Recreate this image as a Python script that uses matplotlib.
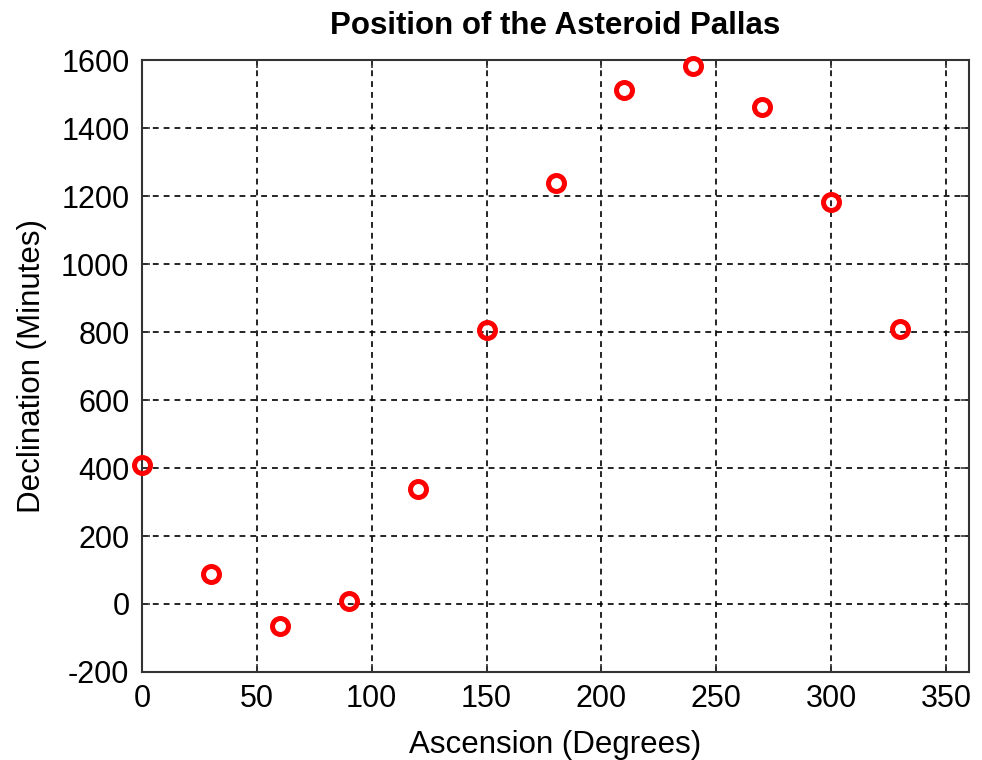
import matplotlib
matplotlib.use("Agg")
import matplotlib.pyplot as plt

ascension = [0, 30, 60, 90, 120, 150, 180, 210, 240, 270, 300, 330]
declination = [408, 89, -66, 10, 338, 807, 1238, 1511, 1583, 1462, 1183, 808]
xticks = [0, 50, 100, 150, 200, 250, 300, 350]
yticks = [-200, 0, 200, 400, 600, 800, 1000, 1200, 1400, 1600]

plt.rcParams['font.family'] = ['Liberation Sans', 'DejaVu Sans']
plt.rcParams['axes.unicode_minus'] = False

fig = plt.figure(figsize=(9.82, 7.6), dpi=100)
ax = fig.add_axes([0.1446, 0.1158, 0.8422, 0.8052])
ax.plot(ascension, declination, 'o', markerfacecolor='none', markeredgecolor='red',
        markersize=11.5, markeredgewidth=3.6, clip_on=False, zorder=3)
ax.set_xlim(0, 360)
ax.set_ylim(-200, 1600)
ax.set_xticks(xticks)
ax.set_yticks(yticks)
ax.tick_params(direction='in', top=True, right=True, labelsize=22, length=6, width=1.2,
               color='#333333')
ax.tick_params(axis='y', pad=9)
ax.tick_params(axis='x', pad=9)
ax.grid(True, color='black', linestyle=(0, (3.5, 3)), linewidth=1.2)
for s in ax.spines.values():
    s.set_linewidth(1.5)
    s.set_color('#333333')
ax.set_title('Position of the Asteroid Pallas', fontsize=22.5, fontweight='bold', pad=19)
ax.set_xlabel('Ascension (Degrees)', fontsize=22.5, labelpad=11)
ax.set_ylabel('Declination (Minutes)', fontsize=22.5, labelpad=10)
fig.savefig('out.png', dpi=100)
